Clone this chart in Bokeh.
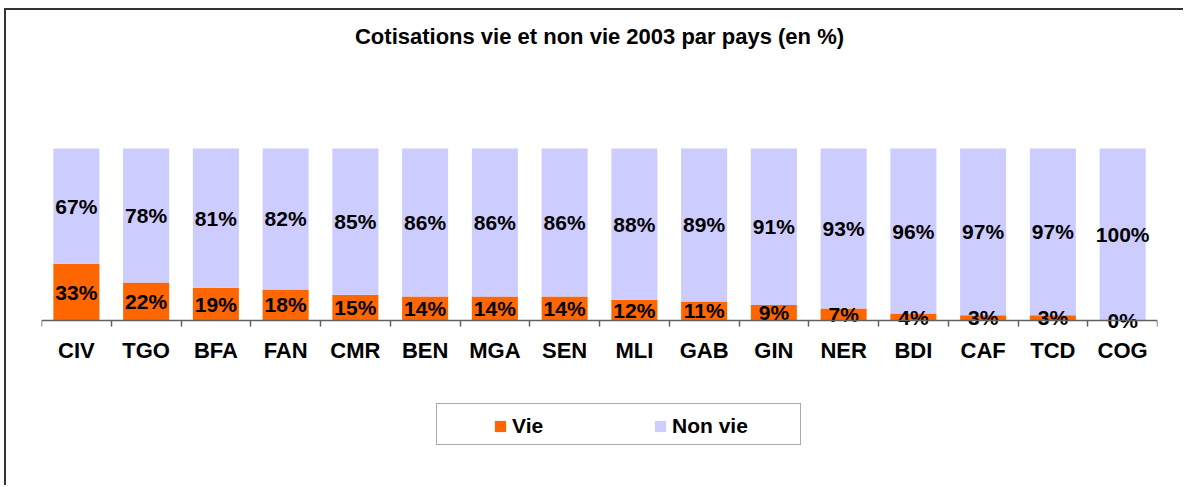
from bokeh.plotting import figure
from bokeh.models import (ColumnDataSource, Range1d, LinearAxis,
                          FixedTicker, Legend, LegendItem)
from bokeh.core.properties import value
from bokeh.embed import file_html
from bokeh.resources import INLINE

# ---- data ----
countries = ["CIV", "TGO", "BFA", "FAN", "CMR", "BEN", "MGA", "SEN",
             "MLI", "GAB", "GIN", "NER", "BDI", "CAF", "TCD", "COG"]
vie = [33, 22, 19, 18, 15, 14, 14, 14, 12, 11, 9, 7, 4, 3, 3, 0]
non_vie = [67, 78, 81, 82, 85, 86, 86, 86, 88, 89, 91, 93, 96, 97, 97, 100]

title = "Cotisations vie et non vie 2003 par pays (en %)"
series_names = ["Vie", "Non vie"]
colors = ["#FF6600", "#CCCCFF"]

FONT = value("Liberation Sans")
n = len(countries)
idx = list(range(n))

source = ColumnDataSource(dict(
    x=idx,
    country=countries,
    vie=vie,
    non_vie=non_vie,
    vie_mid=[v / 2 for v in vie],
    non_mid=[v + m / 2 for v, m in zip(vie, non_vie)],
    vie_lbl=[f"{v}%" for v in vie],
    non_lbl=[f"{m}%" for m in non_vie],
))

p = figure(x_range=Range1d(-0.5, n - 0.5), y_range=Range1d(-91.3, 155.2),
           width=1179, height=477, output_backend="svg", toolbar_location=None,
           x_axis_location=None, y_axis_location=None,
           min_border_left=35, min_border_right=28,
           min_border_top=43, min_border_bottom=10,
           background_fill_color="white", border_fill_color="white")
p.outline_line_color = None
p.grid.visible = False
p.styles = {"margin-left": "4px", "margin-top": "8px",
            "border-left": "2px solid #333333", "border-top": "2px solid #333333"}

p.title.text = title
p.title.align = "center"
p.title.text_font = "Liberation Sans"
p.title.text_font_size = "22px"
p.title.text_font_style = "bold"
p.title.text_color = "black"

renderers = p.vbar_stack(["vie", "non_vie"], x="x", width=0.66,
                         color=colors, line_color=None, source=source)

label_kw = dict(text_font=FONT, text_font_size="21px", text_font_style="bold",
                text_color="black", text_align="center", text_baseline="middle",
                source=source)
p.text(x="x", y="non_mid", text="non_lbl", **label_kw)
p.text(x="x", y="vie_mid", text="vie_lbl", **label_kw)

# category axis: labels at centres, tick marks between categories
xaxis = LinearAxis(ticker=FixedTicker(ticks=idx, minor_ticks=[i - 0.5 for i in range(n + 1)]))
xaxis.major_label_overrides = {i: c for i, c in zip(idx, countries)}
xaxis.fixed_location = 0
xaxis.axis_line_color = "#606060"
xaxis.axis_line_width = 1.5
xaxis.minor_tick_line_color = "#606060"
xaxis.minor_tick_line_width = 1.5
xaxis.minor_tick_out = 6
xaxis.minor_tick_in = 0
xaxis.major_tick_line_color = None
xaxis.major_tick_out = 0
xaxis.major_tick_in = 0
xaxis.major_label_standoff = 12
xaxis.major_label_text_font = "Liberation Sans"
xaxis.major_label_text_font_size = "22px"
xaxis.major_label_text_font_style = "bold"
xaxis.major_label_text_color = "black"
p.add_layout(xaxis, "below")

# legend frame
frame_legend = Legend(items=[LegendItem(label=" ", renderers=[])],
                      location=(395, 32), orientation="horizontal",
                      padding=0, margin=0, spacing=0,
                      glyph_width=1, glyph_height=1, label_standoff=0,
                      label_width=362, label_height=40,
                      label_text_font_size="1px",
                      border_line_color="#555555", border_line_width=1.5,
                      background_fill_alpha=0)
p.add_layout(frame_legend)

items_legend = Legend(items=[LegendItem(label=series_names[0], renderers=[renderers[0]]),
                             LegendItem(label=series_names[1], renderers=[renderers[1]])],
                      location=(452, 39), orientation="horizontal",
                      padding=0, margin=0, spacing=41,
                      glyph_width=14, glyph_height=14, label_standoff=5,
                      label_width=100, label_height=14,
                      label_text_font="Liberation Sans", label_text_font_size="21px",
                      label_text_font_style="bold", label_text_color="black",
                      border_line_color=None, background_fill_alpha=0)
p.add_layout(items_legend)

open("out.html", "w").write(file_html(p, INLINE))
